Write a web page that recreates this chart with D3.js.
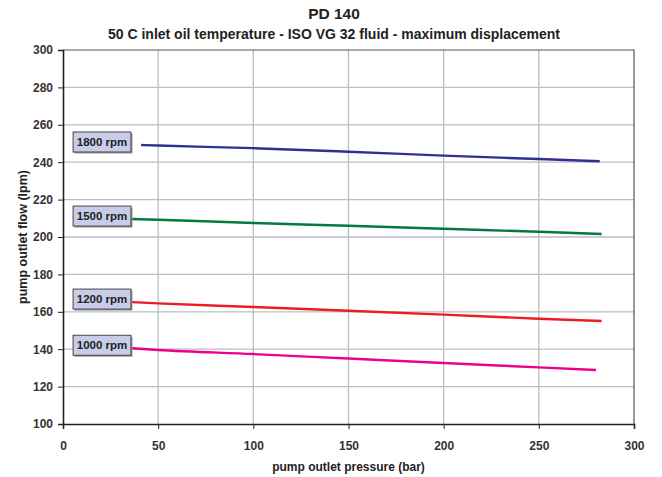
<!DOCTYPE html>
<html>
<head>
<meta charset="utf-8">
<script src="https://cdn.jsdelivr.net/npm/d3@7"></script>
<style>
  body { margin: 0; background: #fff; }
  text { font-family: Arial, "Liberation Sans", sans-serif; font-weight: bold; }
</style>
</head>
<body>
<div id="chart"></div>
<script>
// flow curves
var speeds = ["1800 rpm", "1500 rpm", "1200 rpm", "1000 rpm"];
var colors = ["#2e3192", "#007a3d", "#ed1c24", "#ec008c"];

var press1800 = [41, 50, 100, 150, 200, 250, 282];
var flow1800 = [249.2, 248.9, 247.5, 245.6, 243.5, 241.7, 240.5];
var press1500 = [36, 50, 100, 150, 200, 250, 283];
var flow1500 = [209.6, 209.2, 207.5, 206.0, 204.4, 202.8, 201.6];
var press1200 = [36, 50, 100, 150, 200, 250, 283];
var flow1200 = [165.2, 164.5, 162.6, 160.6, 158.5, 156.3, 155.1];
var press1000 = [36, 50, 100, 150, 200, 250, 280];
var flow1000 = [140.5, 139.6, 137.4, 135.0, 132.6, 130.3, 128.9];

var xTicks = [0, 50, 100, 150, 200, 250, 300];
var yTicks = [100, 120, 140, 160, 180, 200, 220, 240, 260, 280, 300];

var pressures = [press1800, press1500, press1200, press1000];
var flows = [flow1800, flow1500, flow1200, flow1000];

var width = 662, height = 477;
var margin = {top: 50, right: 28, bottom: 53, left: 63};

var svg = d3.select("#chart").append("svg")
    .attr("width", width)
    .attr("height", height);

var x = d3.scaleLinear().domain([0, 300]).range([margin.left, width - margin.right]);
var y = d3.scaleLinear().domain([100, 300]).range([height - margin.bottom, margin.top]);

// grid
svg.append("g")
    .selectAll("line.vgrid")
    .data(xTicks.slice(1, -1))
    .enter().append("line")
    .attr("x1", function(d) { return x(d); })
    .attr("x2", function(d) { return x(d); })
    .attr("y1", y(100))
    .attr("y2", y(300))
    .attr("stroke", "#b9bdc5")
    .attr("stroke-width", 1.3);

svg.append("g")
    .selectAll("line.hgrid")
    .data(yTicks.slice(1, -1))
    .enter().append("line")
    .attr("x1", x(0))
    .attr("x2", x(300))
    .attr("y1", function(d) { return y(d); })
    .attr("y2", function(d) { return y(d); })
    .attr("stroke", "#b9bdc5")
    .attr("stroke-width", 1.3);

// top and right frame
svg.append("path")
    .attr("d", "M" + x(0) + "," + y(300) + "H" + x(300) + "V" + y(100))
    .attr("fill", "none")
    .attr("stroke", "#555")
    .attr("stroke-width", 1.2);

// axes
var xAxis = svg.append("g")
    .attr("transform", "translate(0," + y(100) + ")")
    .call(d3.axisBottom(x).tickValues(xTicks).tickSizeOuter(0).tickSize(5).tickPadding(12));

var yAxis = svg.append("g")
    .attr("transform", "translate(" + x(0) + ",0)")
    .call(d3.axisLeft(y).tickValues(yTicks).tickSizeOuter(0).tickSize(5).tickPadding(5));

[xAxis, yAxis].forEach(function(ax) {
    ax.select(".domain").attr("stroke", "#222").attr("stroke-width", 1.6);
    ax.selectAll(".tick line").attr("stroke", "#222").attr("stroke-width", 1);
    ax.selectAll(".tick text")
        .attr("fill", "#333")
        .attr("font-size", "12px")
        .attr("font-weight", "bold")
        .attr("font-family", "Arial, 'Liberation Sans', sans-serif");
});

// curves
var line = d3.line()
    .x(function(d) { return x(d[0]); })
    .y(function(d) { return y(d[1]); })
    .curve(d3.curveMonotoneX);

speeds.forEach(function(name, i) {
    var pts = d3.zip(pressures[i], flows[i]);
    svg.append("path")
        .datum(pts)
        .attr("d", line)
        .attr("fill", "none")
        .attr("stroke", colors[i])
        .attr("stroke-width", 2.4);

    // speed label box
    var bx = x(5.3), bw = x(35.7) - x(5.3), bh = 20;
    var by = y(flows[i][0]) - 3 - bh / 2;
    svg.append("rect")
        .attr("x", bx + 1.5)
        .attr("y", by + 1.5)
        .attr("width", bw)
        .attr("height", bh)
        .attr("fill", "#9a9a9a");
    svg.append("rect")
        .attr("x", bx)
        .attr("y", by)
        .attr("width", bw)
        .attr("height", bh)
        .attr("fill", "#c9cce8")
        .attr("stroke", "#444")
        .attr("stroke-width", 1);
    svg.append("text")
        .attr("x", bx + bw / 2)
        .attr("y", by + 14)
        .attr("text-anchor", "middle")
        .attr("font-size", "11.5px")
        .attr("fill", "#222")
        .text(name);
});

// titles
svg.append("text")
    .attr("x", 334)
    .attr("y", 19)
    .attr("text-anchor", "middle")
    .attr("font-size", "15.5px")
    .attr("fill", "#222")
    .text("PD 140");

svg.append("text")
    .attr("x", 334)
    .attr("y", 39)
    .attr("text-anchor", "middle")
    .attr("font-size", "14px")
    .attr("fill", "#222")
    .text("50 C inlet oil temperature - ISO VG 32 fluid - maximum displacement");

svg.append("text")
    .attr("x", (x(0) + x(300)) / 2)
    .attr("y", 471)
    .attr("text-anchor", "middle")
    .attr("font-size", "12px")
    .attr("fill", "#222")
    .text("pump outlet pressure (bar)");

svg.append("text")
    .attr("transform", "translate(27," + ((y(100) + y(300)) / 2) + ") rotate(-90)")
    .attr("text-anchor", "middle")
    .attr("font-size", "12.5px")
    .attr("fill", "#222")
    .text("pump outlet flow (lpm)");
</script>
</body>
</html>
